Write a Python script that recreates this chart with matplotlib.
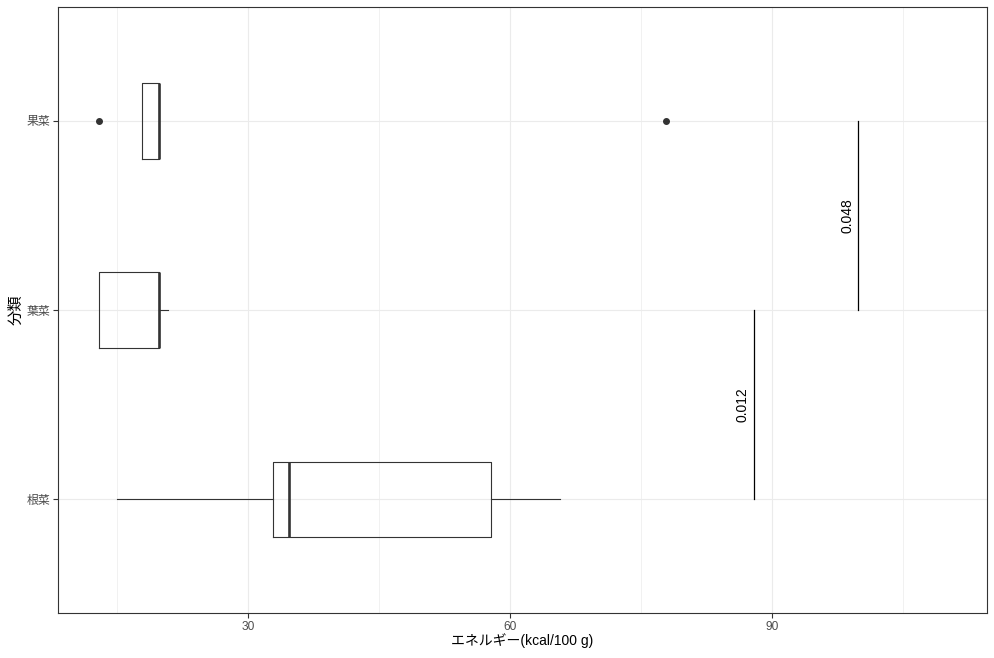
import matplotlib.pyplot as plt
from matplotlib.ticker import FixedLocator

plt.rcParams['font.family'] = ['Liberation Sans', 'Noto Sans CJK JP', 'DejaVu Sans']

# データ(図から読み取った箱ひげ図の統計量)
categories = ['根菜', '葉菜', '果菜']
whislo = [15.0, 12.9, 17.9]
q1 = [32.9, 12.9, 17.9]
med = [34.7, 19.8, 19.8]
q3 = [57.8, 19.8, 19.8]
whishi = [65.7, 20.8, 19.8]
fliers = [[], [], [12.9, 77.9]]

# 有意差検定の結果
pairs = [(0, 1), (1, 2)]
pvals = ['0.012', '0.048']
bracket_x = [87.9, 99.9]

stats = []
for i, name in enumerate(categories):
    stats.append({'label': name, 'whislo': whislo[i], 'q1': q1[i], 'med': med[i],
                  'q3': q3[i], 'whishi': whishi[i], 'fliers': fliers[i]})

fig = plt.figure(figsize=(9.95, 6.58), dpi=100)
ax = fig.add_axes([58 / 995, 1 - 613 / 658, (987 - 58) / 995, (613 - 7) / 658])

line_c = '#333333'
ax.bxp(stats, positions=range(len(categories)), widths=0.4, orientation='horizontal',
       showcaps=False, patch_artist=False,
       boxprops=dict(color=line_c, lw=0.8),
       whiskerprops=dict(color=line_c, lw=0.8),
       medianprops=dict(color=line_c, lw=1.9),
       flierprops=dict(marker='o', markersize=4, markerfacecolor=line_c,
                       markeredgecolor=line_c))

# p値のブラケット
for (a, b), p, x in zip(pairs, pvals, bracket_x):
    ax.plot([x, x], [a, b], color='black', lw=0.9)
    ax.annotate(p, xy=(x, (a + b) / 2), xytext=(-3, 0), textcoords='offset points',
                rotation=90, ha='right', va='center', fontsize=10, color='black')

ax.set_xlim(8.24, 114.62)
ax.set_ylim(-0.6, 2.6)
ax.set_yticks(range(len(categories)))
ax.set_yticklabels(categories)
ax.set_xticks([30, 60, 90])
ax.xaxis.set_minor_locator(FixedLocator([15, 45, 75, 105]))
ax.tick_params(which='minor', length=0)
ax.tick_params(which='major', length=3.8, width=0.8, color=line_c,
               labelsize=8.6, labelcolor='#4D4D4D', pad=2)

ax.grid(which='major', color='#EBEBEB', lw=0.8)
ax.grid(which='minor', axis='x', color='#EBEBEB', lw=0.5)
ax.set_axisbelow(True)
for s in ax.spines.values():
    s.set_color(line_c)
    s.set_linewidth(0.8)

ax.set_xlabel('エネルギー(kcal/100 g)', fontsize=10, labelpad=0)
ax.set_ylabel('分類', fontsize=11, labelpad=2)

fig.savefig('out.png', dpi=100)
